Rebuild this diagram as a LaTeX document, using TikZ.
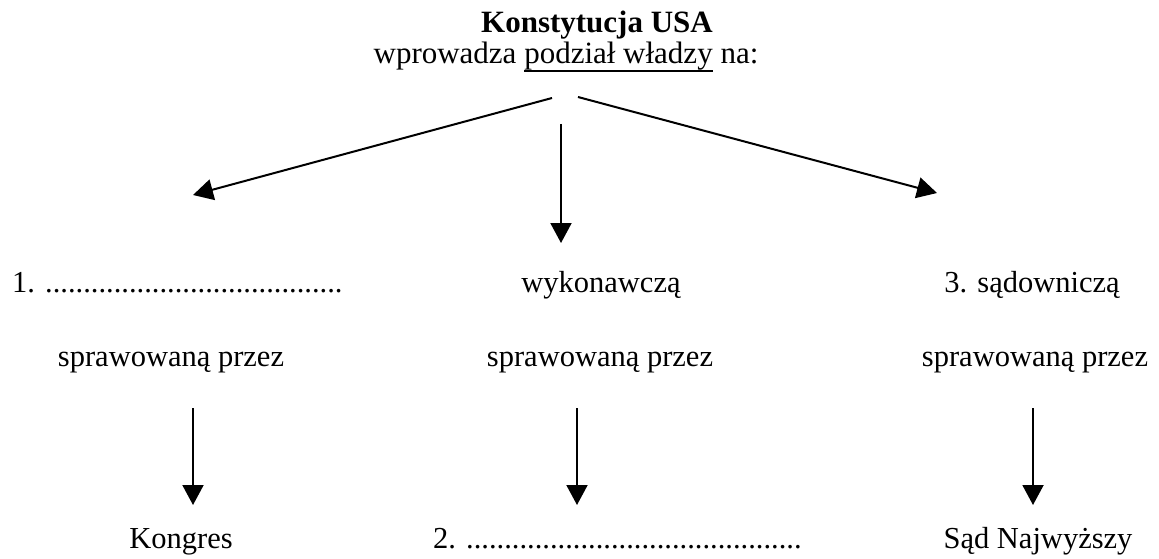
\documentclass[tikz,border=0pt]{standalone}
\usepackage{fontspec}
\setmainfont{Liberation Serif}
\usetikzlibrary{arrows.meta}
\newcommand\mysubul[1]{\setbox0\hbox{#1}\rlap{\raisebox{-8pt}{\rule{\wd0}{1.6pt}}}\box0\relax}
\begin{document}
\begin{tikzpicture}[x=1pt,y=-1pt,
  txt/.style={inner sep=0pt,anchor=base,font=\fontsize{30.5}{36}\selectfont},
  arr/.style={line width=2pt,-{Triangle[length=20pt,width=21pt]}}]
\useasboundingbox (0,0) rectangle (1159,559);
% header
\node[txt,font=\fontsize{31}{36}\selectfont\bfseries] (title) at (597,33) {Konstytucja USA};
\node[txt,font=\fontsize{31}{36}\selectfont] (sub) at (566,64) {wprowadza \mysubul{podział władzy} na:};
% top arrows
\coordinate (la) at (552,98);
\coordinate (lb) at (193,195);
\coordinate (ma) at (561,124);
\coordinate (mb) at (561,243);
\coordinate (ra) at (578,97);
\coordinate (rb) at (937,193);
\draw[arr] (la) -- (lb);
\draw[arr] (ma) -- (mb);
\draw[arr] (ra) -- (rb);
% row 1
\node[txt,anchor=base west] (b1) at (12,292) {1. .......................................};
\node[txt] (b2) at (601,292) {wykonawczą};
\node[txt] (b3) at (1032,292) {3. sądowniczą};
% row 2
\node[txt] (s1) at (171,366) {sprawowaną przez};
\node[txt] (s2) at (600,366) {sprawowaną przez};
\node[txt] (s3) at (1035,366) {sprawowaną przez};
% lower arrows
\coordinate (d1a) at (193,408);
\coordinate (d1b) at (193,505);
\coordinate (d2a) at (577,408);
\coordinate (d2b) at (577,505);
\coordinate (d3a) at (1033,408);
\coordinate (d3b) at (1033,505);
\draw[arr] (d1a) -- (d1b);
\draw[arr] (d2a) -- (d2b);
\draw[arr] (d3a) -- (d3b);
% row 3
\node[txt] (o1) at (181,548) {Kongres};
\node[txt,anchor=base west] (o2) at (433,548) {2. ............................................};
\node[txt] (o3) at (1038,548) {Sąd Najwyższy};
\end{tikzpicture}
\end{document}
